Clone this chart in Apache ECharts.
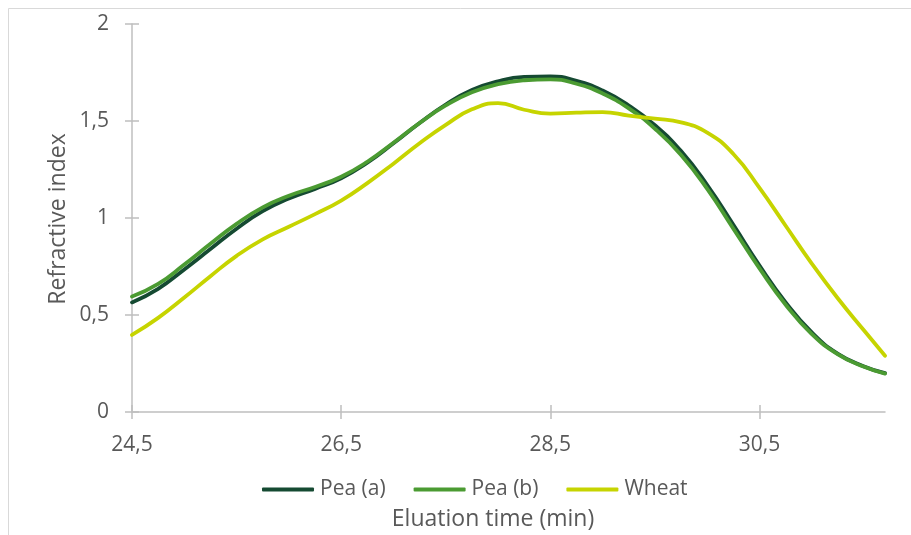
<!DOCTYPE html>
<html>
<head>
<meta charset="utf-8">
<script src="https://cdn.jsdelivr.net/npm/echarts@6/dist/echarts.min.js"></script>
<style>
html,body{margin:0;padding:0;background:#fff;}
#chart{width:911px;height:535px;}
</style>
</head>
<body>
<div id="chart"></div>
<script>
const times = [24.5, 24.75, 25.0, 25.25, 25.5, 25.75, 26.0, 26.25, 26.5, 26.75, 27.0, 27.25, 27.5, 27.75, 28.0, 28.25, 28.5, 28.75, 29.0, 29.25, 29.5, 29.75, 30.0, 30.25, 30.5, 30.75, 31.0, 31.25, 31.5, 31.7];
const peaA = [0.565, 0.635, 0.735, 0.84, 0.945, 1.035, 1.10, 1.15, 1.205, 1.285, 1.385, 1.49, 1.585, 1.66, 1.705, 1.727, 1.73, 1.707, 1.657, 1.58, 1.478, 1.345, 1.17, 0.965, 0.755, 0.565, 0.41, 0.30, 0.235, 0.20];
const peaB = [0.595, 0.66, 0.76, 0.867, 0.97, 1.055, 1.115, 1.16, 1.213, 1.29, 1.388, 1.49, 1.58, 1.648, 1.69, 1.71, 1.715, 1.692, 1.642, 1.565, 1.46, 1.325, 1.15, 0.945, 0.74, 0.553, 0.402, 0.297, 0.233, 0.198];
const wheat = [0.397, 0.485, 0.59, 0.70, 0.805, 0.89, 0.955, 1.02, 1.09, 1.18, 1.28, 1.385, 1.48, 1.56, 1.592, 1.558, 1.538, 1.543, 1.546, 1.528, 1.512, 1.493, 1.44, 1.33, 1.155, 0.96, 0.765, 0.585, 0.42, 0.29];
const xTicks = [24.5, 26.5, 28.5, 30.5];
const yTicks = [0, 0.5, 1, 1.5, 2];
const seriesNames = ['Pea (a)', 'Pea (b)', 'Wheat'];
const seriesColors = ['#154a32', '#4b9b32', '#c6d400'];

const FONT = '"Open Sans", sans-serif';
const TXT = '#595959';
const AX = '#bfbfbf';
const fmt = v => String(v).replace('.', ',');

function pairs(ys){ return times.map((t,i)=>[t, ys[i]]); }
const allData = [peaA, peaB, wheat];

const gridPos = {left:132, right:26, top:24, bottom:123};

const chart = echarts.init(document.getElementById('chart'), null, {renderer:'canvas'});
chart.setOption({
  animation:false,
  backgroundColor:'#fff',
  textStyle:{fontFamily:FONT},
  grid:[Object.assign({}, gridPos), Object.assign({}, gridPos)],
  xAxis:[{
    type:'value', gridIndex:0, min:24.5, max:31.7,
    axisLine:{show:true, lineStyle:{color:AX, width:1.5}},
    axisTick:{show:true, length:7, lineStyle:{color:AX, width:1.5}, customValues:xTicks},
    axisLabel:{show:true, color:TXT, fontSize:21, fontFamily:FONT, margin:23, customValues:xTicks, formatter:fmt},
    splitLine:{show:false}
  },{
    type:'value', gridIndex:1, min:24.5, max:31.7,
    axisLine:{show:false},
    axisTick:{show:true, inside:true, length:7, lineStyle:{color:AX, width:1.5}, customValues:xTicks},
    axisLabel:{show:false},
    splitLine:{show:false}
  }],
  yAxis:[{
    type:'value', gridIndex:0, min:0, max:2, interval:0.5,
    axisLine:{show:true, lineStyle:{color:AX, width:1.5}},
    axisTick:{show:true, length:7, lineStyle:{color:AX, width:1.5}},
    axisLabel:{show:true, color:TXT, fontSize:21, fontFamily:FONT, margin:23, formatter:fmt},
    splitLine:{show:false}
  },{
    type:'value', gridIndex:1, min:0, max:2, interval:0.5,
    axisLine:{show:false},
    axisTick:{show:true, inside:true, length:7, lineStyle:{color:AX, width:1.5}},
    axisLabel:{show:false},
    splitLine:{show:false}
  }],
  legend:{
    left:257, top:474,
    itemWidth:52, itemHeight:4, itemGap:28,
    icon:'roundRect',
    textStyle:{color:TXT, fontSize:21, fontFamily:FONT, padding:[0,0,0,1]},
    data:seriesNames
  },
  series: seriesNames.map((n,i)=>({
    name:n, type:'line', xAxisIndex:0, yAxisIndex:0,
    data:pairs(allData[i]), smooth:true, showSymbol:false, symbol:'none',
    lineStyle:{color:seriesColors[i], width:3.8, cap:'round', join:'round'},
    itemStyle:{color:seriesColors[i]},
    z:2+i
  })),
  graphic:[
    {type:'rect', shape:{x:8.5, y:8.5, width:1000, height:1000}, style:{fill:null, stroke:'#d9d9d9', lineWidth:1}, silent:true},
    {type:'text', x:58, y:219, rotation:Math.PI/2, style:{text:'Refractive index', fill:TXT, font:'23px "Open Sans", sans-serif', align:'center', verticalAlign:'middle'}},
    {type:'text', x:493, y:519, style:{text:'Eluation time (min)', fill:TXT, font:'23px "Open Sans", sans-serif', align:'center', verticalAlign:'middle'}}
  ]
});
</script>
</body>
</html>
